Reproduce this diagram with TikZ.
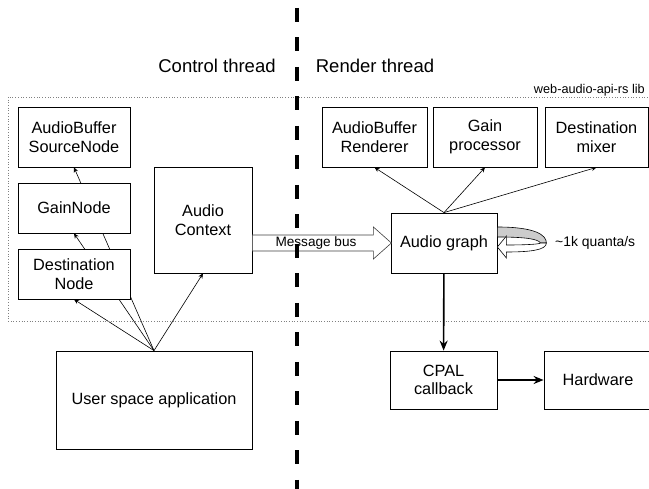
\documentclass[tikz,border=0pt]{standalone}
\usepackage{fontspec}
\setmainfont{Liberation Sans}
\usetikzlibrary{arrows.meta,backgrounds,calc}
\tikzstyle{every node}+=[inner sep=0pt,align=center,font=\fontsize{16.3}{18.5}\selectfont]
\tikzstyle{box}=[draw,fill=white,line width=0.8pt,minimum height=50pt]
\tikzstyle{thin arrow}=[-{Stealth[length=5pt,width=4.5pt]},line width=0.6pt]
\tikzstyle{bold arrow}=[-{Stealth[length=10pt,width=8pt]},line width=1.6pt]
\newcommand{\linkup}[2][thin arrow]{
	\foreach \a/\b in {#2}{
		\draw[#1] (\a) -- (\b);
	}
}

\begin{document}
\begin{tikzpicture}[x=1pt,y=-1pt]
	\useasboundingbox (0,0) rectangle (649,489);
	\clip (0,0) rectangle (649,489);
	\draw[dotted,gray,line width=0.7pt] (8,97) rectangle (660,321);
	\node[anchor=east,font=\fontsize{12.7}{15}\selectfont] (lib) at (645,90) {web-audio-api-rs lib};
	\node[font=\fontsize{18.5}{22}\selectfont] (ctl) at (217,66) {Control thread};
	\node[font=\fontsize{18.5}{22}\selectfont] (rnd) at (375,66) {Render thread};
	% control thread side
	\node[box,minimum width=112pt,minimum height=60pt] (absrc) at (74,137) {AudioBuffer\\SourceNode};
	\node[box,minimum width=112pt] (gain) at (74,208) {GainNode};
	\node[box,minimum width=112pt] (dest) at (74,274) {Destination\\Node};
	\node[box,minimum width=98pt,minimum height=106pt] (ctx) at (203,220) {Audio\\Context};
	\node[box,minimum width=196pt,minimum height=98pt] (app) at (154,400) {User space application};
	% render thread side
	\node[box,minimum width=105pt,minimum height=60pt] (abr) at (374.5,137) {AudioBuffer\\Renderer};
	\node[box,minimum width=104pt,minimum height=60pt] (gproc) at (485,137) {Gain\\processor};
	\node[box,minimum width=103pt,minimum height=60pt] (dmix) at (596.5,137) {Destination\\mixer};
	\node[box,minimum width=106pt,minimum height=60pt] (graph) at (444,243) {Audio graph};
	\node[box,minimum width=107pt,minimum height=58pt] (cpal) at (443.5,380) {CPAL\\callback};
	\node[box,minimum width=108pt,minimum height=58pt] (hw) at (598,380) {Hardware};
	\begin{scope}[on background layer]
		\linkup{app.north/absrc.south,app.north/gain.south,app.north/dest.south,app.north/ctx.south,
			graph.north/abr.south,graph.north/gproc.south,graph.north/dmix.south}
	\end{scope}
	\draw[bold arrow] (graph) -- (cpal);
	\draw[bold arrow] (cpal) -- (hw);
	% message bus
	\coordinate (busstart) at (ctx.east |- graph.west);
	\begin{scope}[shift={(busstart)}]
		\draw[fill=white,draw=black!75,line width=0.6pt] (0,-8) -- (121,-8) -- (121,-16) -- (139,0)
			-- (121,16) -- (121,8) -- (0,8) -- cycle;
	\end{scope}
	\node[font=\fontsize{13.6}{16}\selectfont] (bus) at (316,243) {Message bus};
	% render loop
	\begin{scope}[shift={(graph.east)}]
		\draw[fill=gray!40,line width=0.6pt] (0,-16) .. controls (38,-16) and (49,-8) .. (49,0)
			-- (43,0) .. controls (41,-4) and (28,-6) .. (0,-6) -- cycle;
		\draw[fill=white,line width=0.6pt] (49,0) .. controls (49,7) and (33,9) .. (9,9) -- (9,15)
			-- (0,4) -- (9,-7) -- (9,2) .. controls (31,2) and (43,1) .. (43,0) -- cycle;
	\end{scope}
	\node[anchor=west,font=\fontsize{13.9}{16}\selectfont] (rate) at (555,243) {\textasciitilde1k quanta/s};
	% thread split
	\draw[line width=3.5pt,dash pattern=on 14pt off 15.5pt] (297,8) -- (297,489);
\end{tikzpicture}
\end{document}
